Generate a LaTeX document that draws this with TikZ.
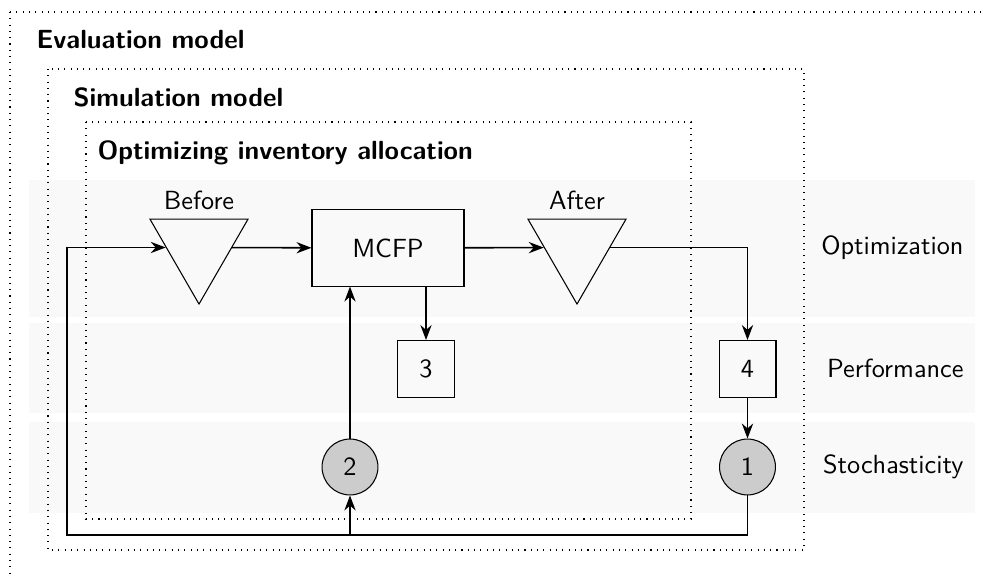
\documentclass[tikz,border=0pt]{standalone}
\usetikzlibrary{shapes.geometric,arrows.meta,calc}
\begin{document}
\begin{tikzpicture}[x=0.381pt,y=-0.381pt,
  font=\sffamily,
  >={Stealth},
  band/.style={fill=black!2.5,draw=none},
  frame/.style={draw,dotted},
  title/.style={font=\sffamily\bfseries,anchor=base west,inner sep=0pt},
  rowlabel/.style={anchor=base east,inner sep=0pt},
  boxnode/.style={draw,rectangle,minimum width=21.7pt,minimum height=21.7pt,inner sep=0pt},
  circnode/.style={draw,circle,fill=black!20,minimum size=21.3pt,inner sep=0pt},
  tri/.style={draw,regular polygon,regular polygon sides=3,shape border rotate=180,minimum size=43.1pt,inner sep=0pt},
  toplabel/.style={anchor=base,inner sep=0pt},
  conn/.style={draw,semithick,->}]
\clip (0,0) rectangle (986,576);
% bands
\fill[band] (29,180) rectangle (975,317);
\fill[band] (29,323) rectangle (975,413);
\fill[band] (29,422) rectangle (975,513);
% frames
\draw[frame] (10,12) rectangle (1010,600);
\draw[frame] (48,69) rectangle (804,550);
\draw[frame] (86,122) rectangle (691,519);
% titles
\node[title] (teval) at (36,49) {Evaluation model};
\node[title] (tsim) at (73,107) {Simulation model};
\node[title] (topt) at (97,160) {Optimizing inventory allocation};
% row labels
\node[rowlabel] (lopt) at (964,255) {Optimization};
\node[rowlabel] (lperf) at (964,378) {Performance};
\node[rowlabel] (lsto) at (964,474) {Stochasticity};
% nodes
\node[tri] (Before) at (199,247.5) {};
\node[toplabel] (tBefore) at (199,210) {Before};
\node[draw,rectangle,minimum width=57.9pt,minimum height=29pt] (MCFP) at (388,248) {MCFP};
\node[tri] (After) at (577,247.5) {};
\node[toplabel] (tAfter) at (577,210) {After};
\node[boxnode] (B3) at (426,369) {3};
\node[boxnode] (B4) at (747.5,369) {4};
\node[circnode] (C2) at (350,467) {2};
\node[circnode] (C1) at (747.5,467) {1};
\coordinate (bl) at (67,535);
% connectors
\draw[conn] (Before) -- (MCFP);
\draw[conn] (MCFP) -- (After);
\draw[conn] (After) -| (B4);
\draw[conn] (B4) -- (C1);
\draw[conn] (B3 |- MCFP.south) -- (B3);
\draw[conn] (C2) -- (C2 |- MCFP.south);
\draw[conn] (C1) |- (bl) |- (Before);
\draw[conn] (C2 |- bl) -- (C2);
\end{tikzpicture}
\end{document}
